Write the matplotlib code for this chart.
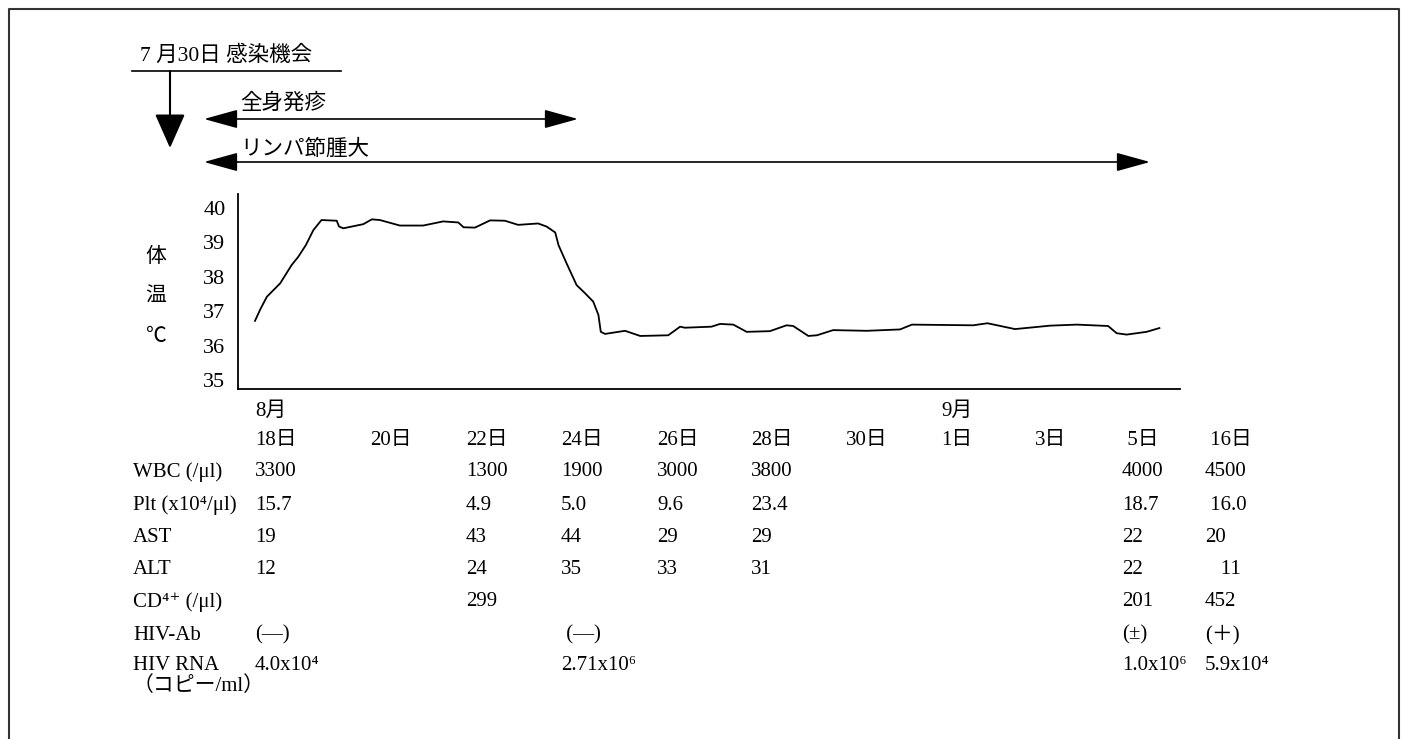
import numpy as np
import matplotlib.pyplot as plt

plt.rcParams['font.family'] = ['Liberation Serif', 'Noto Sans CJK JP', 'DejaVu Serif']

W, H = 1403, 739

# body temperature, days after Aug 18 -> deg C
day = [0.00, 0.11, 0.25, 0.53, 0.77, 0.91, 1.07, 1.23, 1.40, 1.72, 1.77, 1.86,
       2.28, 2.46, 2.63, 3.05, 3.54, 3.96, 4.28, 4.39, 4.63, 4.95, 5.26, 5.54,
       5.96, 6.14, 6.32, 6.39, 6.56, 6.77, 6.95, 7.12, 7.23, 7.28, 7.37, 7.79,
       8.11, 8.70, 8.95, 9.05, 9.61, 9.79, 10.07, 10.35, 10.84, 11.19, 11.33,
       11.65, 11.83, 12.17, 12.88, 13.58, 13.83, 15.12, 15.42, 16.00, 16.74,
       17.30, 17.96, 18.14, 18.35, 18.77, 19.04]
temp = [36.72, 37.05, 37.42, 37.81, 38.34, 38.58, 38.92, 39.36, 39.65, 39.63, 39.46, 39.41,
        39.53, 39.67, 39.65, 39.49, 39.49, 39.61, 39.58, 39.44, 39.43, 39.64, 39.63, 39.51,
        39.55, 39.46, 39.29, 38.92, 38.39, 37.76, 37.52, 37.28, 36.89, 36.40, 36.34, 36.43,
        36.28, 36.30, 36.55, 36.52, 36.55, 36.63, 36.61, 36.40, 36.42, 36.59, 36.57,
        36.28, 36.30, 36.45, 36.43, 36.47, 36.61, 36.59, 36.65, 36.48, 36.58,
        36.61, 36.57, 36.36, 36.32, 36.40, 36.51]

# lab table
dates = ['18日', '20日', '22日', '24日', '26日', '28日', '30日', '1日', '3日', ' 5日', ' 16日']
months = ['8月', '', '', '', '', '', '', '9月', '', '', '']
wbc = ['3300', '', '1300', '1900', '3000', '3800', '', '', '', '4000', '4500']
plt_cnt = ['15.7', '', '4.9', '5.0', '9.6', '23.4', '', '', '', '18.7', ' 16.0']
ast = ['19', '', '43', '44', '29', '29', '', '', '', '22', '20']
alt = ['12', '', '24', '35', '33', '31', '', '', '', '22', '   11']
cd4 = ['', '', '299', '', '', '', '', '', '', '201', '452']
hiv_ab = ['(—)', '', '', ' (—)', '', '', '', '', '', '(±)', '(＋)']
hiv_rna = ['4.0x10⁴', '', '', '2.71x10⁶', '', '', '', '', '', '1.0x10⁶', '5.9x10⁴']
row_names = ['WBC (/μl)', 'Plt (x10⁴/μl)', 'AST', 'ALT', 'CD⁴⁺ (/μl)', 'HIV-Ab', 'HIV RNA']
rows = [wbc, plt_cnt, ast, alt, cd4, hiv_ab, hiv_rna]

# layout (pixels)
col_x = [255, 370, 466, 561, 657, 751, 846, 941, 1035, 1122, 1205]
row_y = [472, 505, 537, 570, 602, 635, 665]
name_x = 133

fig = plt.figure(figsize=(W / 100, H / 100), dpi=100)
bg = fig.add_axes([0, 0, 1, 1])
bg.set_xlim(0, W)
bg.set_ylim(H, 0)
bg.axis('off')

# outer frame (open at the bottom)
bg.plot([9, 9, 1399, 1399], [H, 9, 9, H], color='#333333', lw=1.5)

# infection date and symptom spans
bg.text(140, 56, '7 月30日 感染機会', fontsize=15.5, va='center')
bg.plot([132, 341], [71, 71], color='black', lw=1.2)
bg.annotate('', xy=(170, 148), xytext=(170, 71),
            arrowprops=dict(arrowstyle='-|>,head_length=2.15,head_width=0.95',
                            mutation_scale=10, lw=1.5, color='black', shrinkA=0, shrinkB=0))
bg.text(240, 104, '全身発疹', fontsize=15.5, va='center')
bg.annotate('', xy=(578, 119), xytext=(204, 119),
            arrowprops=dict(arrowstyle='<|-|>,head_length=2.1,head_width=0.58',
                            mutation_scale=10, lw=1.2, color='black', shrinkA=0, shrinkB=0))
bg.text(240, 150, 'リンパ節腫大', fontsize=15.5, va='center')
bg.annotate('', xy=(1150, 162), xytext=(204, 162),
            arrowprops=dict(arrowstyle='<|-|>,head_length=2.1,head_width=0.58',
                            mutation_scale=10, lw=1.2, color='black', shrinkA=0, shrinkB=0))

# y label
for s, y in zip(['体', '温', '℃'], [257, 297, 337]):
    bg.text(156, y, s, fontsize=15, ha='center', va='center')

# temperature chart
ax = fig.add_axes([238 / W, 1 - 389 / H, (1180 - 238) / W, (389 - 194) / H])
ax.patch.set_alpha(0)
ax.plot(day, temp, color='black', lw=1.3)
ax.set_xlim((238 - 255) / 47.5, (1180 - 255) / 47.5)
ax.set_ylim(40 - (389 - 208) / 34.4, 40 + (208 - 194) / 34.4)
ax.set_xticks([])
ax.set_yticks(range(35, 41))
ax.tick_params(axis='y', length=0, pad=9, labelsize=16)
for side in ['top', 'right']:
    ax.spines[side].set_visible(False)
for side in ['left', 'bottom']:
    ax.spines[side].set_linewidth(1.3)

# table
fs = 15
for x, m, d in zip(col_x, months, dates):
    if m:
        bg.text(x, 411, m, fontsize=fs, va='center')
    bg.text(x, 440, d, fontsize=fs, va='center')
for y, name, vals in zip(row_y, row_names, rows):
    bg.text(name_x, y, name, fontsize=fs, va='center')
    for x, v in zip(col_x, vals):
        if v:
            bg.text(x, y, v, fontsize=fs, va='center')
bg.text(name_x, 686, '（コピー/ml）', fontsize=fs, va='center')

fig.savefig('out.png', dpi=100)
